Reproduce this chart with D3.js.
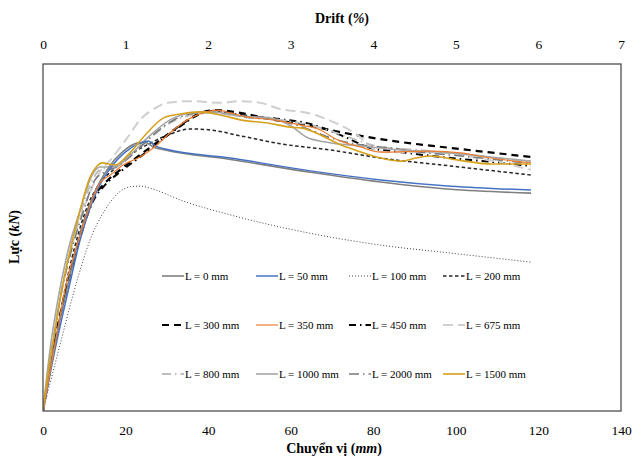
<!DOCTYPE html>
<html><head><meta charset="utf-8">
<script src="https://cdn.jsdelivr.net/npm/d3@7"></script>
<style>
html,body{margin:0;padding:0;background:#fff;}
svg{display:block;font-family:"Liberation Serif","Times New Roman",serif;}
</style></head>
<body>
<svg id="chart" width="634" height="459"></svg>
<script>
// ---- data (displacement mm, force in relative units) ----
const xTicks = [0, 20, 40, 60, 80, 100, 120, 140];
const driftTicks = [0, 1, 2, 3, 4, 5, 6, 7];
const seriesNames = ["L = 0 mm","L = 50 mm","L = 100 mm","L = 200 mm","L = 300 mm","L = 350 mm","L = 450 mm","L = 675 mm","L = 800 mm","L = 1000 mm","L = 2000 mm","L = 1500 mm"];

const L0 = [[0,0],[2.6,17.6],[5.7,34.6],[8.6,49.3],[12.2,62.2],[15.8,70.0],[19.4,74.8],[22.8,77.2],[24.8,77.4],[26.7,76.1],[29.6,75.2],[45.4,72.5],[64.8,68.8],[81.8,66.0],[98.8,63.9],[118.2,62.8]];
const L50 = [[0,0],[2.9,17.6],[6.1,34.6],[9.0,49.3],[12.6,62.2],[16.3,70.0],[19.9,74.6],[23.5,77.2],[25.5,77.8],[27.2,76.4],[29.6,75.5],[45.4,72.9],[64.8,69.2],[81.8,66.6],[98.8,64.8],[118.2,63.7]];
const L100 = [[0,0],[4.1,19.0],[8.3,37.8],[11.4,49.3],[15.0,57.9],[18.2,62.8],[21.1,64.6],[23.5,64.8],[26.5,64.0],[33.3,60.8],[45.4,56.5],[57.5,53.0],[69.7,50.1],[81.8,47.8],[98.8,45.5],[118.2,42.9]];
const L200 = [[0,0],[2.9,19.0],[5.3,34.9],[7.8,47.8],[10.9,59.4],[13.8,65.7],[17.5,70.0],[21.1,73.8],[26.0,77.2],[30.8,79.8],[35.7,81.3],[40.5,81.0],[47.8,79.3],[57.5,77.0],[69.7,75.2],[81.8,72.9],[98.8,70.6],[118.2,68.0]];
const L300 = [[0,0],[2.9,20.5],[5.8,36.3],[9.0,50.7],[11.9,60.8],[15.0,65.7],[18.7,69.5],[23.5,73.8],[28.4,78.1],[33.3,82.4],[38.1,85.9],[41.7,86.7],[47.8,85.9],[55.1,84.1],[62.4,82.7],[74.5,79.8],[86.7,77.5],[98.8,75.8],[118.2,73.2]];
const L350 = [[0,0],[2.9,19.0],[5.3,34.9],[9.0,50.7],[11.9,60.8],[13.8,65.7],[16.3,68.0],[19.4,70.9],[23.5,73.2],[26.7,75.8],[31.6,81.0],[35.7,84.4],[38.8,85.9],[42.2,86.7],[45.4,85.9],[49.5,84.7],[55.8,83.9],[62.4,82.4],[67.2,81.0],[70.9,78.4],[76.9,76.1],[81.8,74.6],[93.9,74.9],[101.2,74.4],[106.8,73.2],[118.2,71.5]];
const L450 = [[0,0],[2.9,19.9],[5.8,35.4],[9.0,49.9],[11.9,59.9],[15.0,65.1],[18.7,68.9],[23.5,73.2],[28.4,77.8],[33.3,82.1],[38.1,85.6],[41.7,86.5],[47.8,85.3],[57.5,84.1],[64.8,82.7],[72.1,79.5],[79.4,75.8],[86.7,74.6],[98.8,72.9],[108.5,71.8],[118.2,70.6]];
const L675 = [[0,0],[1.7,14.7],[3.4,27.7],[5.3,39.2],[9.0,55.6],[11.4,63.1],[13.8,68.9],[16.3,72.3],[18.2,75.2],[20.4,78.7],[23.5,83.9],[27.2,87.3],[30.1,88.8],[35.7,89.3],[43.0,88.8],[47.8,89.3],[52.7,88.8],[57.5,87.0],[64.1,85.9],[69.7,83.6],[76.2,79.5],[80.6,75.2],[83.5,74.6],[93.9,74.6],[106.8,72.6],[118.2,69.5]];
const L800 = [[0,0],[2.2,17.6],[4.1,32.0],[6.6,46.4],[9.0,56.5],[11.4,65.1],[13.8,69.5],[17.5,70.6],[21.1,73.5],[26.0,78.7],[30.8,83.0],[35.7,85.3],[40.5,85.9],[47.8,85.0],[57.5,83.9],[67.2,81.6],[74.5,78.7],[81.8,76.1],[91.5,75.2],[103.6,73.8],[118.2,71.8]];
const L1000 = [[0,0],[1.7,17.6],[3.6,32.0],[6.1,46.4],[9.0,57.9],[11.9,68.0],[13.8,70.3],[17.5,70.3],[21.1,73.8],[26.0,79.5],[30.8,83.9],[35.7,85.9],[40.5,86.2],[47.8,85.0],[55.1,84.4],[60.0,82.2],[64.0,78.8],[68.0,77.6],[76.9,76.4],[86.7,75.2],[96.4,74.6],[106.1,73.5],[118.2,72.0]];
const L2000 = [[0,0],[2.2,17.6],[4.1,32.0],[6.6,45.0],[9.5,56.5],[12.6,66.6],[15.0,68.9],[18.2,70.6],[22.3,74.6],[27.2,80.1],[32.0,84.1],[36.9,85.9],[41.7,86.2],[49.0,84.7],[57.5,83.6],[64.8,81.0],[69.7,78.7],[76.9,76.7],[84.2,75.8],[91.5,74.6],[101.2,73.5],[110.9,72.3],[118.2,71.2]];
const L1500 = [[0,0],[1.7,14.7],[2.9,23.3],[4.1,32.0],[6.6,46.4],[9.0,57.9],[11.4,67.4],[13.1,70.6],[14.3,71.5],[17.5,70.9],[20.6,73.8],[25.2,80.1],[29.1,84.4],[33.3,85.6],[38.1,86.2],[43.0,85.3],[47.8,83.9],[54.4,83.0],[60.0,81.8],[62.4,81.6],[72.8,76.4],[81.8,72.9],[86.7,72.0],[90.3,72.9],[93.9,73.5],[100.5,72.3],[108.5,71.2],[118.2,71.2]];

const seriesData = [L0, L50, L100, L200, L300, L350, L450, L675, L800, L1000, L2000, L1500];

// ---- styles ----
const styles = [
  {c:"#7f7f7f", w:1.6, d:null},
  {c:"#4472c4", w:1.5, d:null},
  {c:"#404040", w:1.0, d:"1,2"},
  {c:"#262626", w:1.5, d:"3.5,2.5"},
  {c:"#000000", w:2.2, d:"7,5"},
  {c:"#ed7d31", w:1.2, d:null},
  {c:"#000000", w:2.0, d:"7,4,1.5,4"},
  {c:"#cfcfcf", w:2.0, d:"10,5"},
  {c:"#bdbdbd", w:1.8, d:"9,4,1.5,4"},
  {c:"#a6a6a6", w:1.6, d:null},
  {c:"#7a7a7a", w:1.6, d:"10,4,1.5,4"},
  {c:"#d6a11c", w:1.6, d:null}
];
const drawOrder = [2,3,4,6,7,8,10,9,0,1,5,11];

const svg = d3.select("#chart");
const pL = 43, pR = 621, pT = 64, pB = 411;
const x = d3.scaleLinear().domain([0,140]).range([pL,pR]);
const xd = d3.scaleLinear().domain([0,7]).range([pL,pR]);
const y = d3.scaleLinear().domain([0,100]).range([pB,pT]);

svg.append("defs").append("clipPath").attr("id","clip")
  .append("rect").attr("x",pL).attr("y",pT).attr("width",pR-pL).attr("height",pB-pT);

const line = d3.line().x(d=>x(d[0])).y(d=>y(d[1])).curve(d3.curveMonotoneX);
const g = svg.append("g").attr("clip-path","url(#clip)");
drawOrder.forEach(i=>{
  const s = styles[i];
  g.append("path").datum(seriesData[i]).attr("d",line)
   .attr("fill","none").attr("stroke",s.c).attr("stroke-width",s.w)
   .attr("stroke-dasharray",s.d).attr("stroke-linejoin","round");
});

svg.append("rect").attr("x",pL).attr("y",pT).attr("width",pR-pL).attr("height",pB-pT)
  .attr("fill","none").attr("stroke","#404040").attr("stroke-width",1.2);

const serif = "Liberation Serif, Times New Roman, serif";
const ax = svg.append("g").attr("transform",`translate(0,${pB+14})`)
  .call(d3.axisBottom(x).tickValues(xTicks).tickSize(0).tickPadding(0).tickFormat(d3.format("d")));
ax.select(".domain").remove();
ax.attr("font-family",serif).attr("font-size",13.5);
ax.selectAll("text").attr("fill","#000");
const at = svg.append("g").attr("transform",`translate(0,${pT-15})`)
  .call(d3.axisTop(xd).tickValues(driftTicks).tickSize(0).tickPadding(0).tickFormat(d3.format("d")));
at.select(".domain").remove();
at.attr("font-family",serif).attr("font-size",13.5);
at.selectAll("text").attr("fill","#000");

const t1 = svg.append("text").attr("x",342).attr("y",23).attr("text-anchor","middle")
  .attr("font-size",14).attr("font-weight","bold");
t1.append("tspan").text("Drift (");
t1.append("tspan").attr("font-style","italic").text("%");
t1.append("tspan").text(")");
const t2 = svg.append("text").attr("x",334).attr("y",453).attr("text-anchor","middle")
  .attr("font-size",14).attr("font-weight","bold");
t2.append("tspan").text("Chuyển vị (");
t2.append("tspan").attr("font-style","italic").text("mm");
t2.append("tspan").text(")");
const t3 = svg.append("text").attr("transform","translate(19,237) rotate(-90)").attr("text-anchor","middle")
  .attr("font-size",14).attr("font-weight","bold");
t3.append("tspan").text("Lực (");
t3.append("tspan").attr("font-style","italic").text("kN");
t3.append("tspan").text(")");

const colX = [162, 256, 349, 443];
const rowY = [276, 325, 374];
seriesNames.forEach((name,i)=>{
  const s = styles[i];
  const cx = colX[i%4], cy = rowY[Math.floor(i/4)];
  svg.append("line").attr("x1",cx).attr("x2",cx+22).attr("y1",cy).attr("y2",cy)
    .attr("stroke",s.c).attr("stroke-width",s.w).attr("stroke-dasharray",s.d);
  svg.append("text").attr("x",cx+23).attr("y",cy+4).attr("font-size",11).text(name);
});
</script>
</body></html>
